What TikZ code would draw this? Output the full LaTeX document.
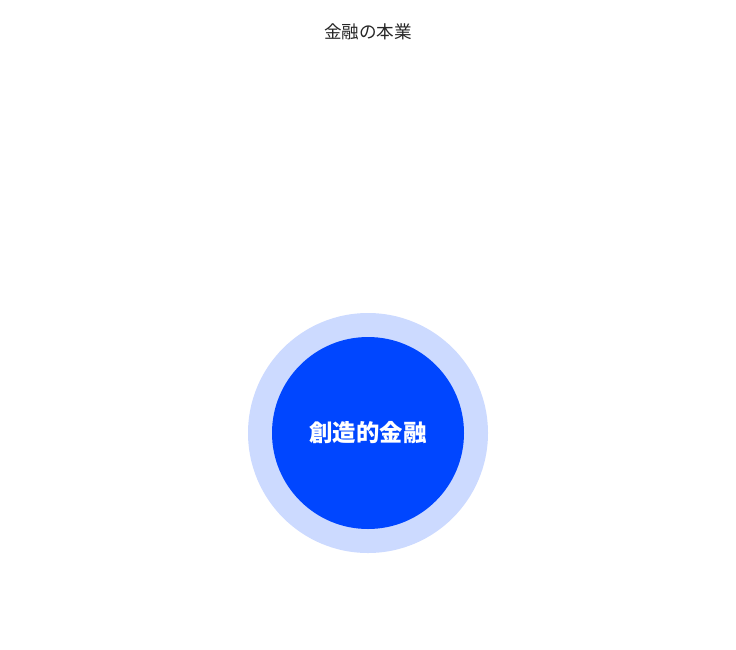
\documentclass[tikz,border=0pt]{standalone}
\usepackage{fontspec}
\newfontfamily\cjk{Noto Sans CJK JP}
\definecolor{ringblue}{HTML}{CCDAFF}
\definecolor{coreblue}{HTML}{0046FF}
\begin{document}
\begin{tikzpicture}[x=1pt, y=-1pt, line join=round, line cap=round,
			ring/.style={circle, fill=ringblue, minimum size=240pt, inner sep=0pt},
			core/.style={circle, fill=coreblue, minimum size=192pt, inner sep=0pt, text=white,
				font=\cjk\bfseries\fontsize{23.4}{28}\selectfont}
			]
			\useasboundingbox (0,0) rectangle (736,649);
			\node[font=\cjk\fontsize{17.6}{21}\selectfont, text=black!85] (title) at (368,32) {金融の本業};
			\node[ring] (outer) at (368,433) {};
			\node[core] (inner) at (outer.center) {創造的金融};
\end{tikzpicture}
\end{document}
